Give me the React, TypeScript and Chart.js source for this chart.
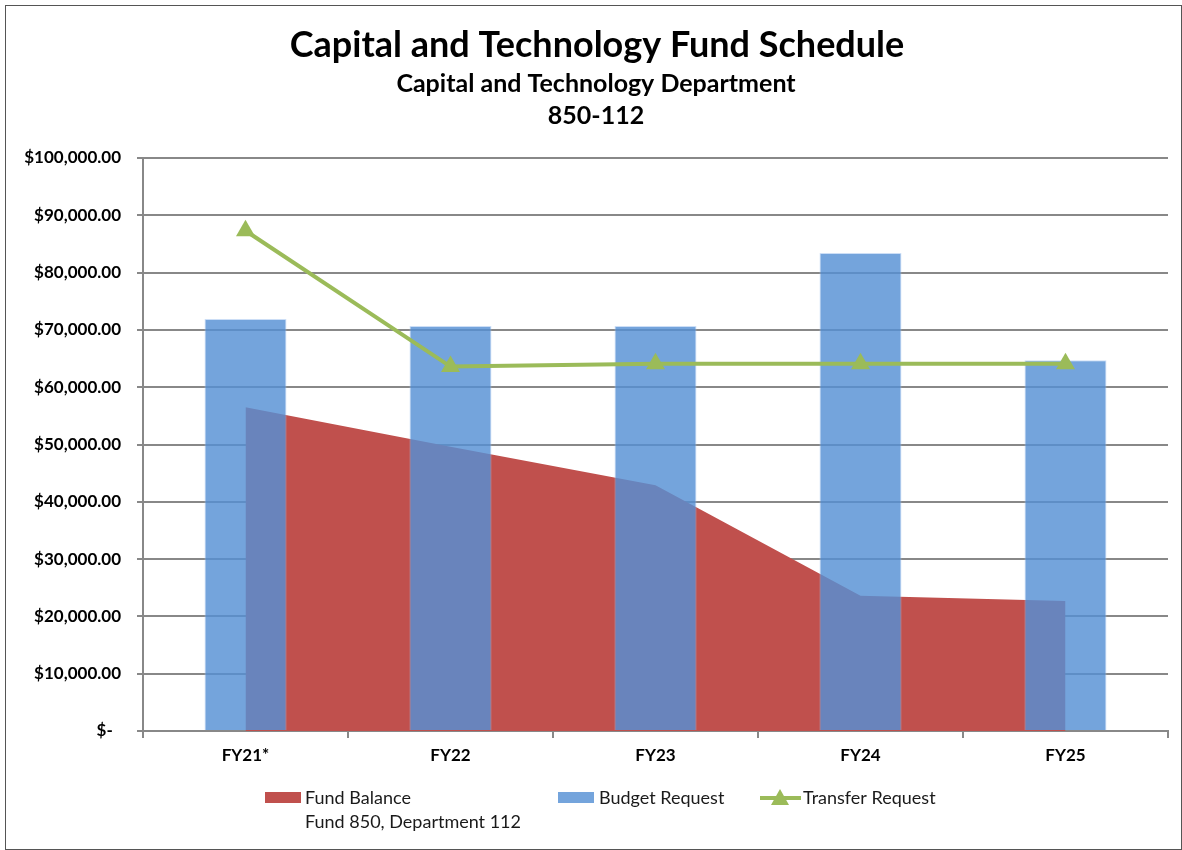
import React, { useEffect, useRef } from "react";
import { Chart, registerables } from "chart.js";

Chart.register(...registerables);

const categories = ["FY21*", "FY22", "FY23", "FY24", "FY25"];
const fundBalance = [56500, 49600, 42900, 23600, 22700];
const budgetRequest = [71900, 70700, 70700, 83400, 64700];
const transferRequest = [87300, 63600, 64100, 64100, 64100];

const titleText = "Capital and Technology Fund Schedule";
const subtitleLines = ["Capital and Technology Department", "850-112"];
const legendLabels = ["Fund Balance", "Fund 850, Department 112", "Budget Request", "Transfer Request"];

const FONT = "Lato, 'Open Sans', sans-serif";
const RED = "rgb(192,80,77)";
const BLUE = "rgba(86,144,212,0.82)";
const GREEN = "rgb(155,187,89)";

const formatMoney = (v: number) =>
  v === 0 ? "$-  " : "$" + v.toLocaleString("en-US", { minimumFractionDigits: 2, maximumFractionDigits: 2 });

const decorPlugin = {
  id: "decor",
  beforeDraw(chart: any) {
    const ctx = chart.ctx;
    ctx.save();
    ctx.fillStyle = "#fff";
    ctx.fillRect(0, 0, chart.width, chart.height);
    ctx.strokeStyle = "#555";
    ctx.lineWidth = 1;
    ctx.strokeRect(5.5, 5.5, chart.width - 6, chart.height - 6);
    ctx.restore();
  },
  afterDraw(chart: any) {
    const ctx = chart.ctx;
    ctx.save();
    ctx.fillStyle = "#000";
    ctx.textAlign = "center";
    ctx.textBaseline = "middle";
    ctx.font = `bold 36px ${FONT}`;
    ctx.fillText(titleText, 597, 45);
    ctx.font = `bold 25px ${FONT}`;
    ctx.fillText(subtitleLines[0], 596, 84);
    ctx.fillText(subtitleLines[1], 596, 116);

    // legend
    ctx.textAlign = "left";
    ctx.font = `18px ${FONT}`;
    ctx.fillStyle = RED;
    ctx.fillRect(265, 792, 36, 11);
    ctx.fillStyle = "#1a1a1a";
    ctx.fillText(legendLabels[0], 305, 798);
    ctx.fillText(legendLabels[1], 305, 822);
    ctx.fillStyle = BLUE;
    ctx.fillRect(558, 792, 36, 11);
    ctx.fillStyle = "#1a1a1a";
    ctx.fillText(legendLabels[2], 599, 798);
    ctx.strokeStyle = GREEN;
    ctx.lineWidth = 4;
    ctx.beginPath();
    ctx.moveTo(760, 798);
    ctx.lineTo(801, 798);
    ctx.stroke();
    ctx.fillStyle = GREEN;
    ctx.beginPath();
    ctx.moveTo(780, 789);
    ctx.lineTo(789, 805);
    ctx.lineTo(771, 805);
    ctx.closePath();
    ctx.fill();
    ctx.fillStyle = "#1a1a1a";
    ctx.fillText(legendLabels[3], 803, 798);
    ctx.restore();
  },
};

export default function App() {
  const ref = useRef<HTMLCanvasElement | null>(null);
  useEffect(() => {
    document.body.style.margin = "0";
    const chart = new Chart(ref.current as HTMLCanvasElement, {
      type: "bar",
      data: {
        labels: categories,
        datasets: [
          {
            type: "line",
            label: "Transfer Request",
            data: transferRequest,
            borderColor: GREEN,
            backgroundColor: GREEN,
            borderWidth: 4,
            pointStyle: "triangle",
            pointRadius: 11,
            pointBackgroundColor: GREEN,
            pointBorderWidth: 0,
            tension: 0,
            fill: false,
            order: 0,
          } as any,
          {
            type: "bar",
            label: "Budget Request",
            data: budgetRequest,
            backgroundColor: BLUE,
            borderColor: "rgba(170,200,240,0.6)",
            borderWidth: 1,
            barPercentage: 0.4,
            categoryPercentage: 1,
            order: 1,
          } as any,
          {
            type: "line",
            label: "Fund Balance",
            data: fundBalance,
            borderWidth: 0,
            borderColor: RED,
            backgroundColor: RED,
            pointRadius: 0,
            fill: "origin",
            tension: 0,
            order: 2,
          } as any,
        ],
      },
      options: {
        animation: false,
        responsive: false,
        maintainAspectRatio: false,
        layout: { padding: { top: 158, left: 0, right: 14, bottom: 0 } },
        plugins: { legend: { display: false }, tooltip: { enabled: false }, title: { display: false } },
        scales: {
          x: {
            offset: true,
            grid: { display: true, drawOnChartArea: false, drawTicks: true, tickLength: 7, color: "#888", lineWidth: 2, offset: true },
            border: { display: true, color: "#888", width: 2 },
            ticks: { color: "#000", font: { family: FONT, size: 17, weight: "bold" }, padding: 7 },
            afterFit: (s: any) => { s.height = 119; },
          },
          y: {
            min: 0,
            max: 100000,
            ticks: { stepSize: 10000, callback: (v: any) => formatMoney(Number(v)), color: "#000", font: { family: FONT, size: 17, weight: "bold" }, padding: 16 },
            grid: { color: "#888", lineWidth: 2, tickLength: 6, drawTicks: true },
            border: { display: true, color: "#888", width: 2 },
            afterFit: (s: any) => { s.width = 143; },
          },
        },
      },
      plugins: [decorPlugin],
    });
    return () => chart.destroy();
  }, []);
  return <canvas ref={ref} width={1182} height={850} style={{ display: "block", width: 1182, height: 850 }} />;
}
